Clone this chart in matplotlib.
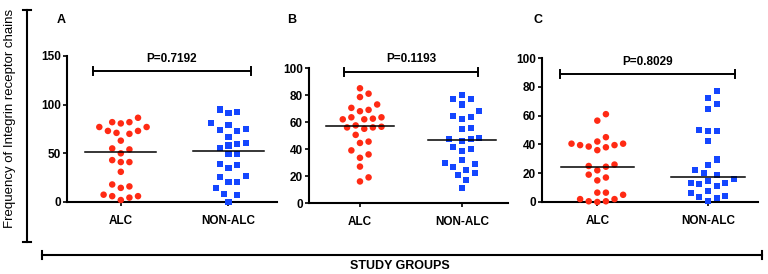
import numpy as np
import matplotlib.pyplot as plt
from matplotlib.lines import Line2D

plt.rcParams['font.family'] = ['Liberation Sans', 'DejaVu Sans']

groups = ['ALC', 'NON-ALC']
panels = ['A', 'B', 'C']

alc_a = [80.7, 77, 82, 82, 86.5, 77, 70, 73, 71, 73, 63, 54, 55, 50, 41, 41, 43,
         31, 16, 14.5, 18, 7.5, 6, 2, 4.5, 6]
non_a = [92, 91, 95, 81, 74.5, 73, 74, 79, 67, 61, 60, 55, 49, 49, 58, 38, 35,
         39.5, 26, 27, 20.5, 20.5, 14.5, 8, 7.5, 0]
alc_b = [85, 81, 78.5, 70.5, 68, 69, 73, 63.5, 62.5, 62, 62, 63.5, 56.5, 56, 57.5,
         55, 56, 50.5, 45.5, 44.5, 39, 33.5, 36, 27, 19, 16]
non_b = [80, 77, 77, 73, 68, 64.5, 62.5, 63.5, 55.5, 55, 47.5, 46, 47.5, 48, 40,
         38.5, 41.5, 30, 26.5, 29, 32, 22.5, 20.5, 24.5, 17, 11]
alc_c = [61, 56.5, 45, 40.5, 39.5, 38.5, 36, 38, 39.5, 40.5, 42, 26, 24.5, 25, 19,
         22, 17, 15, 6.5, 6.5, 5, 2, 0.5, 0, 0.5, 2]
non_c = [77, 72, 68, 64.5, 50, 49.5, 49.5, 42.5, 29.5, 25.5, 22.5, 20, 19, 13, 11,
         14.5, 12.5, 16, 13, 6.5, 3.5, 7.5, 2.5, 4, 1]

means = [[51.5, 52.5], [57, 47], [24.5, 17.5]]
p_values = ['P=0.7192', 'P=0.1193', 'P=0.8029']
y_max = [150, 100, 100]
y_step = [50, 20, 20]
bracket_y = [134.6, 97, 88.9]
bracket_x = [(0.74, 2.21), (0.84, 2.16), (0.66, 2.24)]
p_text_y = [147, 106.7, 97.4]
data = [(alc_a, non_a), (alc_b, non_b), (alc_c, non_c)]

RED = '#ff2a14'
BLUE = '#1446ff'


def swarm(ax, xc, vals, gap):
    """simple beeswarm: offsets in pixels, converted back to data x"""
    vals = np.asarray(vals, float)
    pix = ax.transData.transform(np.column_stack([np.full(len(vals), xc), vals]))
    x0 = pix[0, 0]
    order = np.argsort(pix[:, 1])
    placed = []
    xs = np.zeros(len(vals))
    step = gap / 2.0
    for i in order:
        y = pix[i, 1]
        cands = [0.0]
        for k in range(1, 40):
            cands += [k * step, -k * step]
        for off in cands:
            ok = all((off - px) ** 2 + (y - py) ** 2 >= gap ** 2 for px, py in placed)
            if ok:
                placed.append((off, y))
                xs[i] = x0 + off
                break
    inv = ax.transData.inverted()
    return inv.transform(np.column_stack([xs, pix[:, 1]]))[:, 0]


fig = plt.figure(figsize=(7.68, 2.74), dpi=100)
rects = [[0.0872, 0.2628, 0.2734, 0.533],
         [0.4023, 0.259, 0.259, 0.4927],
         [0.7057, 0.2628, 0.281, 0.5255]]
label_x = [61.5, 292, 538]

for k, r in enumerate(rects):
    ax = fig.add_axes(r)
    ax.set_xlim(0.5, 2.45)
    ax.set_ylim(0, y_max[k])
    ax.set_yticks(np.arange(0, y_max[k] + 1, y_step[k]))
    ax.set_xticks([1, 2])
    ax.set_xticklabels(groups)
    for s in ['top', 'right']:
        ax.spines[s].set_visible(False)
    for s in ['left', 'bottom']:
        ax.spines[s].set_linewidth(1.5)
    ax.tick_params(axis='y', length=3, width=1.2, pad=1.5, labelsize=8.5)
    ax.tick_params(axis='x', length=3, width=1.2, pad=6.5, labelsize=8.5)
    for t in ax.get_xticklabels() + ax.get_yticklabels():
        t.set_fontweight('bold')

    alc, non = data[k]
    xa = swarm(ax, 1, alc, 8.6)
    xn = swarm(ax, 2, non, 8.6)
    ax.scatter(xa, alc, s=22, marker='o', color=RED, edgecolors='none', clip_on=False, zorder=3)
    ax.scatter(xn, non, s=19, marker='s', color=BLUE, edgecolors='none', clip_on=False, zorder=3)
    for j, xc in enumerate([1, 2]):
        ax.plot([xc - 0.33, xc + 0.33], [means[k][j]] * 2, color='black', lw=1.1, zorder=4)

    bx0, bx1 = bracket_x[k]
    by = bracket_y[k]
    cap = 0.03 * y_max[k]
    ax.plot([bx0, bx1], [by, by], color='black', lw=1.4, clip_on=False)
    ax.plot([bx0, bx0], [by - cap, by + cap], color='black', lw=1.4, clip_on=False)
    ax.plot([bx1, bx1], [by - cap, by + cap], color='black', lw=1.4, clip_on=False)
    ax.text((bx0 + bx1) / 2, p_text_y[k], p_values[k], ha='center', va='center',
            fontsize=8.5, fontweight='bold', clip_on=False)
    fig.text(label_x[k] / 768, 1 - 20 / 274, panels[k], ha='center', va='center',
             fontsize=9, fontweight='bold')

# outer "axis" bars
H = 274.0
W = 768.0
vx = 27 / W
fig.add_artist(Line2D([vx, vx], [1 - 10 / H, 1 - 242 / H], color='black', lw=1.5))
fig.add_artist(Line2D([vx - 4 / W, vx + 4 / W], [1 - 10 / H] * 2, color='black', lw=1.5))
fig.add_artist(Line2D([vx - 4 / W, vx + 4 / W], [1 - 242 / H] * 2, color='black', lw=1.5))
hy = 1 - 255 / H
fig.add_artist(Line2D([42 / W, 762 / W], [hy, hy], color='black', lw=1.5))
fig.add_artist(Line2D([42 / W] * 2, [hy - 4 / H, hy + 4 / H], color='black', lw=1.5))
fig.add_artist(Line2D([762 / W] * 2, [hy - 4 / H, hy + 4 / H], color='black', lw=1.5))

fig.text(10 / W, 1 - 118 / H, 'Frequency of Integrin receptor chains', rotation=90,
         ha='center', va='center', fontsize=9.5)
fig.text(400 / W, 1 - 266 / H, 'STUDY GROUPS', ha='center', va='center',
         fontsize=9, fontweight='bold')

fig.savefig('out.png', dpi=100)
